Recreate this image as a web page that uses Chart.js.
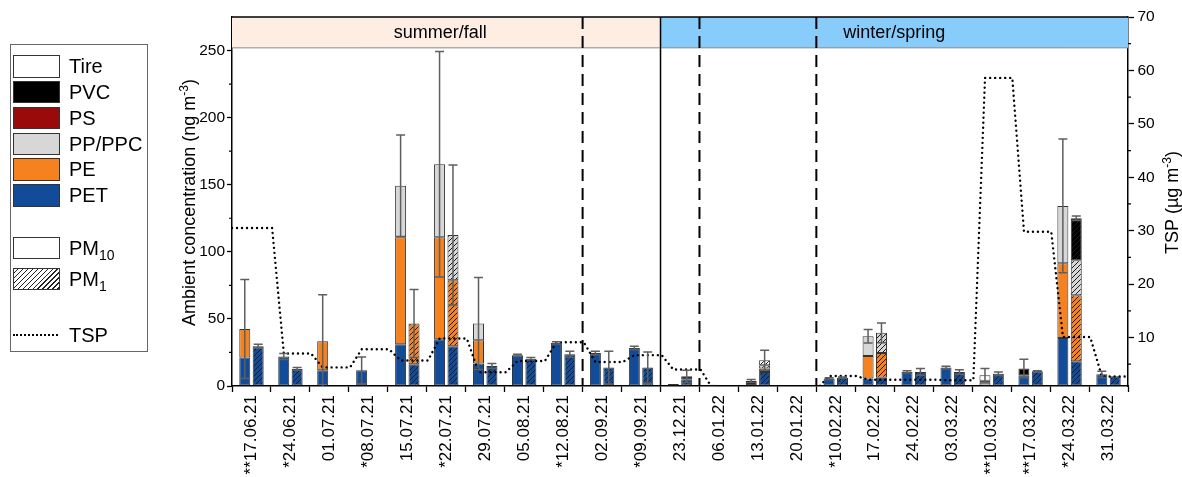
<!DOCTYPE html>
<html>
<head>
<meta charset="utf-8">
<script src="https://cdn.jsdelivr.net/npm/chart.js@4.4.1/dist/chart.umd.min.js"></script>
<style>
  body { margin: 0; background: #fff; font-family: 'Liberation Sans', Arial, sans-serif; }
  #wrap { position: relative; width: 1182px; height: 477px; }
  #legend { position: absolute; left: 10px; top: 44px; width: 138px; height: 308px; border: 1px solid #666; box-sizing: border-box; }
  .item { position: absolute; left: 2px; height: 22.5px; width: 130px; }
  .sw { position: absolute; left: 0; top: 0; width: 47px; height: 22.5px; border: 1.5px solid #333; box-sizing: border-box; }
  .lbl { position: absolute; left: 56px; top: 0; font-size: 20px; line-height: 22.5px; color: #000; white-space: nowrap; }
  .lbl sub { font-size: 14px; vertical-align: -5px; line-height: 0; }
  .dots { position: absolute; left: 0; top: 10px; width: 45px; border-top: 2.5px dotted #000; }
</style>
</head>
<body>
<div id="wrap">
  <canvas id="chart" width="1182" height="477"></canvas>
  <div id="legend"></div>
</div>
<script>
// sampling dates (asterisks as in the paper)
var dates = ['**17.06.21', '*24.06.21', '01.07.21', '*08.07.21', '15.07.21', '*22.07.21', '29.07.21',
  '05.08.21', '*12.08.21', '02.09.21', '*09.09.21', '23.12.21', '06.01.22', '13.01.22', '20.01.22',
  '*10.02.22', '17.02.22', '24.02.22', '03.03.22', '**10.03.22', '**17.03.22', '*24.03.22', '31.03.22'];

// PM10 (ng m-3), one array per polymer
var pm10PET  = [21.2, 22.0, 11.7, 11.7, 31.1, 34.9, 16.7, 22.9, 32.1, 24.6, 28.4, 0, 0, 0, 0, 5.5, 5.5, 10.5, 13.7, 0, 8.0, 35.8, 8.7];
var pm10PE   = [21.3, 0, 21.7, 0, 79.7, 75.9, 17.4, 0, 0, 0, 0, 0, 0, 0, 0, 0, 16.9, 0, 0, 0, 0, 55.6, 0];
var pm10PP   = [0, 0, 0, 0, 38.5, 54.5, 12.5, 0, 0, 0, 0, 0, 0, 0, 0, 0, 14.7, 0, 0, 2.5, 0, 42.8, 0];
var pm10PS   = [0, 0, 0, 0, 0, 0, 0, 0, 0, 0, 0, 0, 0, 0, 0, 0, 0, 0, 0, 1.5, 0, 0, 0];
var pm10PVC  = [0, 0, 0, 0, 0, 0, 0, 0, 0, 0, 0, 1.5, 1.0, 3.7, 0, 0, 0, 0, 0, 0, 5.0, 0, 0];
var pm10Tire = [0, 0, 0, 0, 0, 0, 0, 0, 0, 0, 0, 0, 0, 0, 0, 0, 0, 0, 0, 4.0, 0, 0, 0];
var pm10Err  = [36.9, 2.2, 34.6, 10, 37.8, 84, 34.3, 0.8, 0.8, 1.3, 1.2, 0, 0, 1.2, 0, 0.7, 5, 0.8, 1, 5, 6.9, 49.8, 2.3];

// PM1 (ng m-3)
var pm1PET  = [29.6, 12.7, 0, 0, 16.2, 29.6, 14.9, 20.4, 23.7, 13.7, 13.7, 5.0, 0, 10.5, 0, 6.2, 6.2, 10.5, 10.5, 9.2, 11.0, 18.4, 7.2];
var pm1PE   = [0, 0, 0, 0, 30.4, 49.3, 0, 0, 0, 0, 0, 0, 0, 2.5, 0, 0, 18.4, 0, 0, 0, 0, 49.3, 0];
var pm1PP   = [0, 0, 0, 0, 0, 33.6, 0, 0, 0, 0, 0, 0, 0, 2.5, 0, 0, 15.0, 0, 0, 0, 0, 26.1, 0];
var pm1PS   = [0, 0, 0, 0, 0, 0, 0, 0, 0, 0, 0, 0, 0, 0, 0, 0, 0, 0, 0, 0, 0, 0, 0];
var pm1PVC  = [0, 0, 0, 0, 0, 0, 0, 0, 0, 0, 0, 2.2, 0, 0, 0, 0, 0, 0, 0, 0, 0, 31.2, 0];
var pm1Tire = [0, 0, 0, 0, 0, 0, 0, 0, 0, 0, 0, 0, 0, 3.7, 0, 0, 0, 0, 0, 0, 0, 0, 0];
var pm1Err  = [1.5, 1, 0, 0, 25.4, 52.2, 1.8, 0.8, 2.2, 12.2, 11.7, 4.5, 0, 7.4, 0, 0.5, 7.4, 2.5, 1.7, 1.3, 0.3, 1.7, 0];

// TSP (ug m-3), right axis
var tsp = [30.5, 7.0, 4.4, 7.8, 5.7, 9.8, 3.5, 5.6, 9.1, 5.4, 6.7, 4.0, 0.5, 0.5, 0.5, 2.8, 2.1, 2.1, 2.0, 58.6, 29.8, 10.1, 2.7];

// seasons and divider lines (in date-index units)
var seasons = [
  { label: 'summer/fall', from: -0.5, to: 10.5 },
  { label: 'winter/spring', from: 10.5, to: 22.5 }
];
var seasonColors = ['#fdede3', '#88ccfb'];
var dashedAt = [8.5, 11.5, 14.5];

var polymers = ['PET', 'PE', 'PP/PPC', 'PS', 'PVC', 'Tire'];
var colors = ['#124c98', '#f5821f', '#d7d7d7', '#9b0a0a', '#000000', '#ffffff'];
var pm10 = [pm10PET, pm10PE, pm10PP, pm10PS, pm10PVC, pm10Tire];
var pm1 = [pm1PET, pm1PE, pm1PP, pm1PS, pm1PVC, pm1Tire];

Chart.defaults.font.family = "'Liberation Sans', Arial, sans-serif";
Chart.defaults.color = '#000';

// hatched fill for the PM1 bars
function hatch(color) {
  var c = document.createElement('canvas');
  c.width = 5; c.height = 5;
  var g = c.getContext('2d');
  g.fillStyle = color;
  g.fillRect(0, 0, 5, 5);
  g.strokeStyle = '#1a1a1a';
  g.lineWidth = 1;
  g.beginPath();
  g.moveTo(0, 5); g.lineTo(5, 0);
  g.moveTo(-1, 1); g.lineTo(1, -1);
  g.moveTo(4, 6); g.lineTo(6, 4);
  g.stroke();
  return g.createPattern(c, 'repeat');
}

var datasets = [];
polymers.forEach(function (p, k) {
  datasets.push({
    label: p + ' PM10', stack: 'pm10', order: 1,
    data: pm10[k].map(function (v, i) { return { x: i, y: v || null }; }),
    backgroundColor: colors[k], borderColor: '#333', borderWidth: 1, borderSkipped: false
  });
});
polymers.forEach(function (p, k) {
  datasets.push({
    label: p + ' PM1', stack: 'pm1', order: 1,
    data: pm1[k].map(function (v, i) { return { x: i, y: v || null }; }),
    backgroundColor: hatch(colors[k]), borderColor: '#333', borderWidth: 1, borderSkipped: false
  });
});

// TSP drawn as a stepped dotted line over each sampling week
var tspPts = [];
tsp.forEach(function (v, i) {
  tspPts.push({ x: i === 0 ? -0.5 : i - 0.17, y: v });
  tspPts.push({ x: i + 0.53, y: v });
});
datasets.push({
  type: 'line', label: 'TSP', yAxisID: 'y1', order: 0, data: tspPts,
  borderColor: '#000', borderWidth: 2.4, borderDash: [0.01, 5], borderCapStyle: 'round',
  pointRadius: 0, tension: 0, fill: false
});

function sumAt(parts, i) {
  var s = 0;
  parts.forEach(function (a) { s += a[i]; });
  return s;
}

// rotated title with a superscript piece
function drawTitle(ctx, parts, x, y) {
  ctx.save();
  ctx.translate(x, y);
  ctx.rotate(-Math.PI / 2);
  ctx.textBaseline = 'alphabetic';
  ctx.textAlign = 'left';
  var total = 0;
  parts.forEach(function (p) { ctx.font = p[1] + "px 'Liberation Sans', Arial"; total += ctx.measureText(p[0]).width; });
  var cx = -total / 2;
  parts.forEach(function (p) {
    ctx.font = p[1] + "px 'Liberation Sans', Arial";
    ctx.fillStyle = '#000';
    ctx.fillText(p[0], cx, p[2]);
    cx += ctx.measureText(p[0]).width;
  });
  ctx.restore();
}

var decor = {
  id: 'decor',
  beforeDatasetsDraw: function (chart) {
    var ctx = chart.ctx, a = chart.chartArea, x = chart.scales.x, y = chart.scales.y;
    var yb = y.getPixelForValue(252);
    ctx.save();
    seasons.forEach(function (s, k) {
      var x0 = x.getPixelForValue(s.from), x1 = x.getPixelForValue(s.to);
      ctx.fillStyle = seasonColors[k];
      ctx.fillRect(x0, a.top, x1 - x0, yb - a.top);
      ctx.fillStyle = '#000';
      ctx.font = "18px 'Liberation Sans', Arial";
      ctx.textAlign = 'center';
      ctx.textBaseline = 'middle';
      var mid = k === 0 ? (x0 + x1) / 2 - 6 : (x0 + x1) / 2;
      ctx.fillText(s.label, mid, (a.top + yb) / 2 + 1);
    });
    ctx.strokeStyle = '#8a8a8a';
    ctx.lineWidth = 1;
    ctx.beginPath();
    ctx.moveTo(a.left, yb); ctx.lineTo(a.right, yb);
    ctx.stroke();
    // season split (solid) and dashed dividers
    ctx.strokeStyle = '#000';
    ctx.lineWidth = 1.5;
    var xs = x.getPixelForValue(seasons[1].from);
    ctx.beginPath(); ctx.moveTo(xs, a.top); ctx.lineTo(xs, a.bottom); ctx.stroke();
    ctx.lineWidth = 2;
    ctx.setLineDash([12, 7]);
    dashedAt.forEach(function (v) {
      var px = x.getPixelForValue(v);
      ctx.beginPath(); ctx.moveTo(px, a.top); ctx.lineTo(px, a.bottom); ctx.stroke();
    });
    ctx.restore();
  },
  afterDatasetsDraw: function (chart) {
    var ctx = chart.ctx, a = chart.chartArea, y = chart.scales.y, y1 = chart.scales.y1;
    ctx.save();
    // error bars
    ctx.strokeStyle = '#5f5f5f';
    ctx.lineWidth = 1.5;
    [[0, pm10, pm10Err], [6, pm1, pm1Err]].forEach(function (g) {
      var meta = chart.getDatasetMeta(g[0]);
      dates.forEach(function (d, i) {
        var e = g[2][i];
        if (!e) return;
        var tot = sumAt(g[1], i);
        var px = meta.data[i].x;
        var yt = y.getPixelForValue(tot + e), yl = y.getPixelForValue(Math.max(tot - e, 0));
        ctx.beginPath();
        ctx.moveTo(px, yt); ctx.lineTo(px, yl);
        ctx.moveTo(px - 4.5, yt); ctx.lineTo(px + 4.5, yt);
        if (tot - e > 0) { ctx.moveTo(px - 4.5, yl); ctx.lineTo(px + 4.5, yl); }
        ctx.stroke();
      });
    });
    // top frame line
    ctx.strokeStyle = '#000';
    ctx.lineWidth = 1.5;
    ctx.beginPath(); ctx.moveTo(a.left, a.top); ctx.lineTo(a.right, a.top); ctx.stroke();
    // minor ticks
    ctx.lineWidth = 1.2;
    ctx.beginPath();
    for (var v = 25; v < 275; v += 50) {
      var py = y.getPixelForValue(v);
      ctx.moveTo(a.left - 3, py); ctx.lineTo(a.left, py);
    }
    for (var w = 5; w < 70; w += 10) {
      var py1 = y1.getPixelForValue(w);
      ctx.moveTo(a.right, py1); ctx.lineTo(a.right + 3, py1);
    }
    ctx.stroke();
    ctx.restore();
    drawTitle(ctx, [['Ambient concentration (ng m', 18, 0], ['-3', 12, -7], [')', 18, 0]], 195, 202.5);
    drawTitle(ctx, [['TSP (\u00b5g m', 18, 0], ['-3', 12, -7], [')', 18, 0]], 1178, 202.5);
  }
};

new Chart(document.getElementById('chart'), {
  type: 'bar',
  data: { datasets: datasets },
  plugins: [decor],
  options: {
    responsive: false,
    animation: false,
    layout: { padding: { top: 17, left: 0, right: 0, bottom: 0 } },
    datasets: { bar: { categoryPercentage: 0.688, barPercentage: 0.82 } },
    plugins: { legend: { display: false }, tooltip: { enabled: false } },
    scales: {
      x: {
        type: 'linear', min: -0.5, max: 22.5, offset: false,
        afterBuildTicks: function (s) { s.ticks = dates.map(function (d, i) { return { value: i }; }); },
        afterFit: function (s) { s.height = 91; },
        ticks: {
          autoSkip: false, minRotation: 90, maxRotation: 90, padding: 3, font: { size: 17 },
          callback: function (v) { return dates[v]; }
        },
        grid: { drawOnChartArea: false, drawTicks: true, tickLength: 6, tickColor: '#000', tickWidth: 1.3 },
        border: { color: '#000', width: 1.5 }
      },
      y: {
        position: 'left', stacked: true, min: 0, max: 275,
        afterBuildTicks: function (s) { s.ticks = [0, 50, 100, 150, 200, 250].map(function (v) { return { value: v }; }); },
        afterFit: function (s) { s.width = 232; },
        ticks: { padding: 2, font: { size: 15.5 } },
        grid: { drawOnChartArea: false, drawTicks: true, tickLength: 5, tickColor: '#000', tickWidth: 1.3 },
        border: { color: '#000', width: 1.5 }
      },
      y1: {
        position: 'right', min: 0.92, max: 70,
        afterBuildTicks: function (s) { s.ticks = [10, 20, 30, 40, 50, 60, 70].map(function (v) { return { value: v }; }); },
        afterFit: function (s) { s.width = 54; },
        ticks: { padding: 3.5, font: { size: 15.5 } },
        grid: { drawOnChartArea: false, drawTicks: true, tickLength: 6, tickColor: '#000', tickWidth: 1.3 },
        border: { color: '#000', width: 1.5 }
      }
    }
  }
});

// legend box (HTML, left of the plot)
var legendRows = [
  { name: 'Tire', top: 10, fill: colors[5] },
  { name: 'PVC', top: 35.7, fill: colors[4] },
  { name: 'PS', top: 61.7, fill: colors[3] },
  { name: 'PP/PPC', top: 87.7, fill: colors[2] },
  { name: 'PE', top: 113.3, fill: colors[1] },
  { name: 'PET', top: 139.3, fill: colors[0] },
  { name: 'PM<sub>10</sub>', top: 191.7, fill: '#ffffff' },
  { name: 'PM<sub>1</sub>', top: 222.7, fill: 'repeating-linear-gradient(135deg, #fff 0px, #fff 2.4px, #222 2.4px, #222 3.5px)' }
];
var lg = document.getElementById('legend');
legendRows.forEach(function (r) {
  var it = document.createElement('div');
  it.className = 'item';
  it.style.top = r.top + 'px';
  it.innerHTML = '<div class="sw" style="background:' + r.fill + '"></div><div class="lbl">' + r.name + '</div>';
  lg.appendChild(it);
});
var t = document.createElement('div');
t.className = 'item';
t.style.top = '279px';
t.innerHTML = '<div class="dots"></div><div class="lbl">TSP</div>';
lg.appendChild(t);
</script>
</body>
</html>
